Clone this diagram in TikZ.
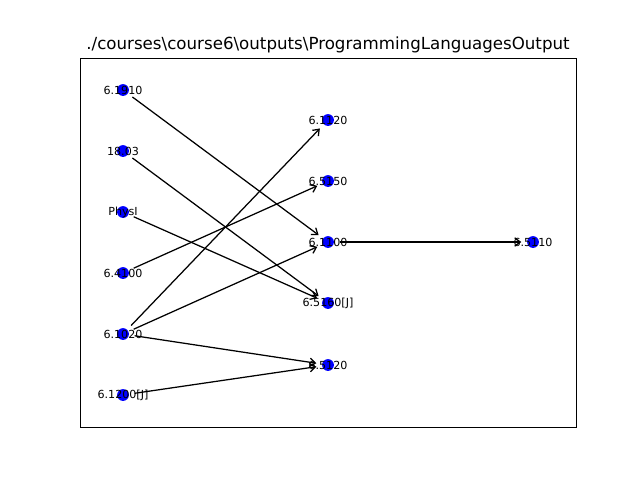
\documentclass[tikz,border=0pt]{standalone}
\usepackage{fontspec}
\setmainfont{DejaVu Sans}
\usetikzlibrary{arrows.meta,backgrounds}
\tikzset{
  course/.style={circle,fill=blue,inner sep=0pt,minimum size=8.5pt},
  lbl/.style={font=\fontsize{8}{9.6}\selectfont,inner sep=0pt,text=black},
  req/.style={line width=0.9pt,shorten <=4pt,shorten >=4pt,-{Straight Barb[length=4pt,width=6pt,line width=0.9pt]}}
}
\begin{document}
\begin{tikzpicture}[x=0.72pt,y=-0.72pt]
                \useasboundingbox (0,0) rectangle (640,480);
                \draw[line width=0.6pt] (80,58) rectangle (576,427);
                \node[anchor=base,font=\fontsize{12}{14.4}\selectfont] (title) at (328,49) {./courses\textbackslash course6\textbackslash outputs\textbackslash ProgrammingLanguagesOutput};

                \node[course,label={[lbl]center:6.1910}] (c1910) at (123,90) {};
                \node[course,label={[lbl]center:18.03}] (c1803) at (123,151) {};
                \node[course,label={[lbl]center:PhysI}] (physi) at (123,212) {};
                \node[course,label={[lbl]center:6.4100}] (c4100) at (123,273) {};
                \node[course,label={[lbl]center:6.1020}] (c1020) at (123,334) {};
                \node[course,label={[lbl]center:6.1200[J]}] (c1200) at (123,395) {};
                \node[course,label={[lbl]center:6.1120}] (c1120) at (328,120) {};
                \node[course,label={[lbl]center:6.5150}] (c5150) at (328,181) {};
                \node[course,label={[lbl]center:6.1100}] (c1100) at (328,242) {};
                \node[course,label={[lbl]center:6.5160[J]}] (c5160) at (328,303) {};
                \node[course,label={[lbl]center:6.5120}] (c5120) at (328,365) {};
                \node[course,label={[lbl]center:6.5110}] (c5110) at (533,242) {};

                \begin{scope}[on background layer]
                \draw[req] (c1910) to (c1100); \draw[req] (c1803) to (c5160); \draw[req] (physi) to (c5160);
                \draw[req] (c4100) to (c5150); \draw[req] (c1020) to (c1120); \draw[req] (c1020) to (c1100);
                \draw[req] (c1020) to (c5120); \draw[req] (c1200) to (c5120);
                \draw[req] (c1100) to (c5110);
                \end{scope}
            \end{tikzpicture}
\end{document}
